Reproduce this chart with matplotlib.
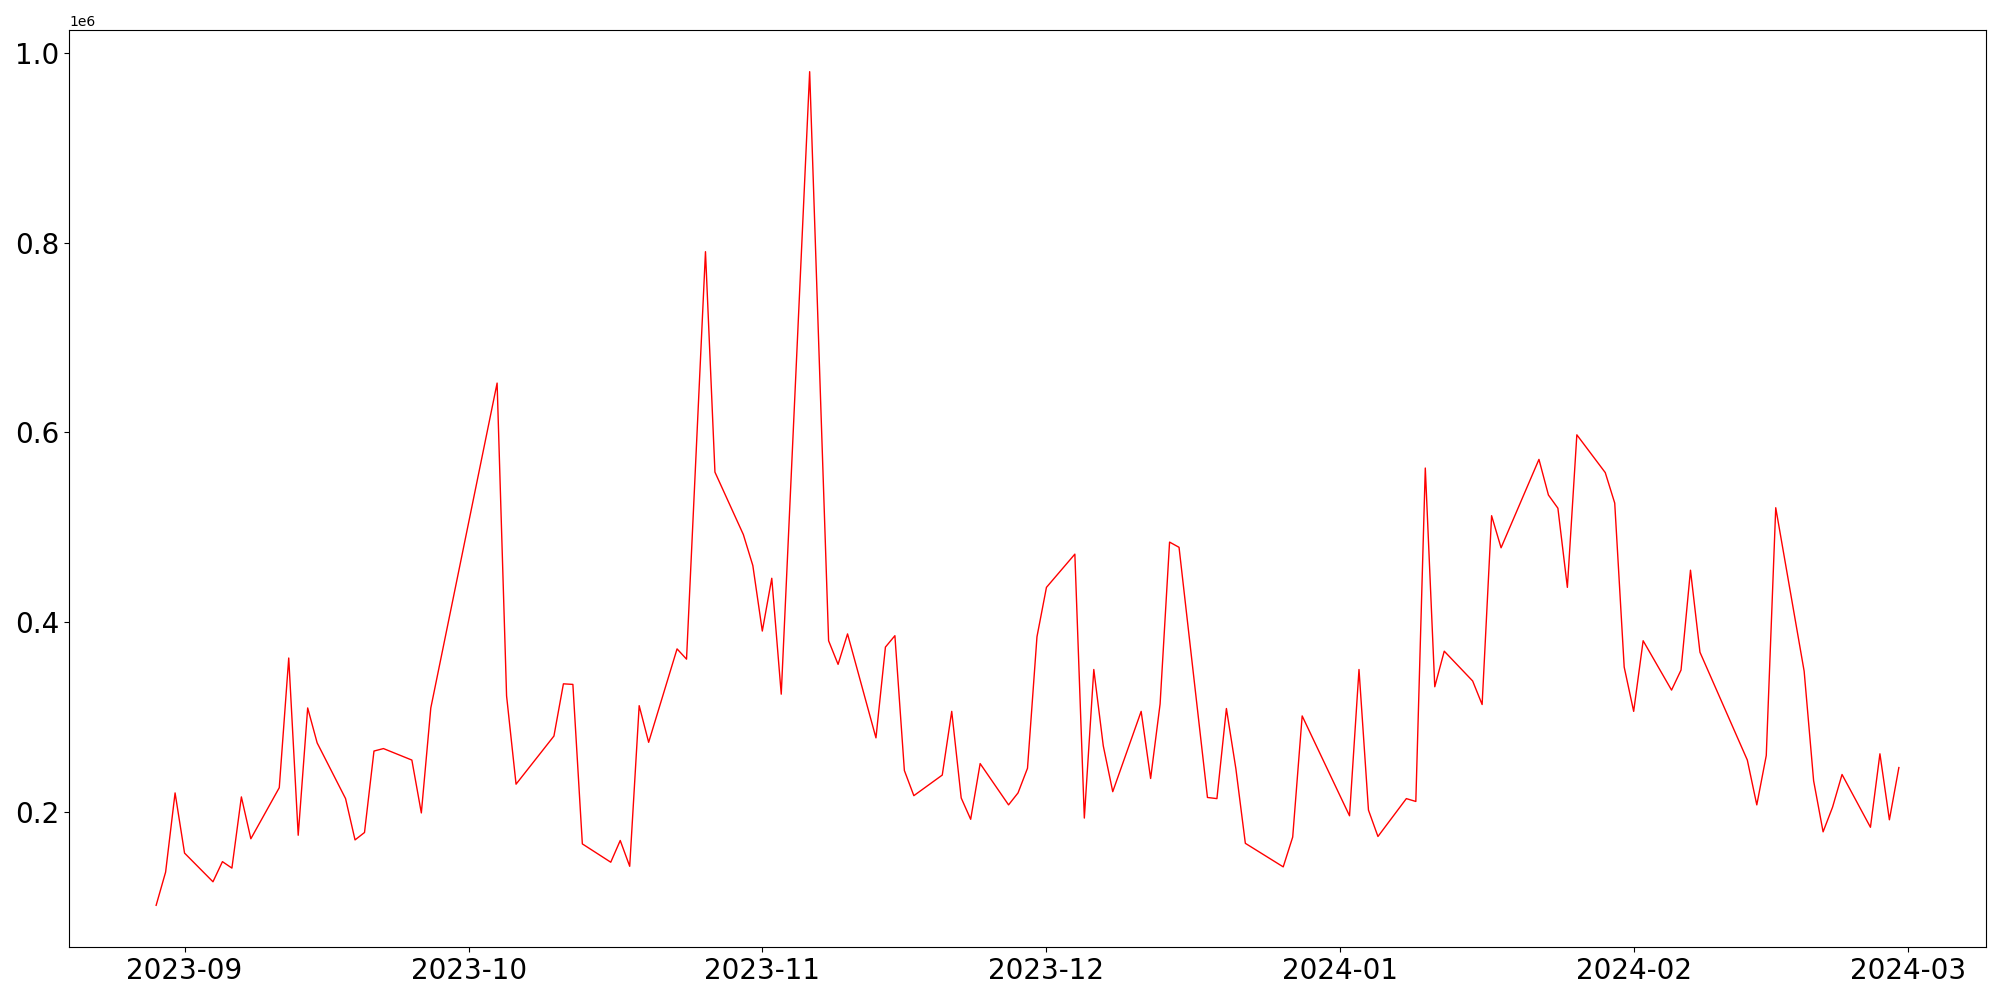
import matplotlib
matplotlib.use("Agg")
import matplotlib.pyplot as plt
import pandas as pd

dates = [
    "2023-08-29", "2023-08-30", "2023-08-31", "2023-09-01", "2023-09-04",
    "2023-09-05", "2023-09-06", "2023-09-07", "2023-09-08", "2023-09-11",
    "2023-09-12", "2023-09-13", "2023-09-14", "2023-09-15", "2023-09-18",
    "2023-09-19", "2023-09-20", "2023-09-21", "2023-09-22", "2023-09-25",
    "2023-09-26", "2023-09-27", "2023-10-04", "2023-10-05", "2023-10-06",
    "2023-10-10", "2023-10-11", "2023-10-12", "2023-10-13", "2023-10-16",
    "2023-10-17", "2023-10-18", "2023-10-19", "2023-10-20", "2023-10-23",
    "2023-10-24", "2023-10-26", "2023-10-27", "2023-10-30", "2023-10-31",
    "2023-11-01", "2023-11-02", "2023-11-03", "2023-11-06", "2023-11-08",
    "2023-11-09", "2023-11-10", "2023-11-13", "2023-11-14", "2023-11-15",
    "2023-11-16", "2023-11-17", "2023-11-20", "2023-11-21", "2023-11-22",
    "2023-11-23", "2023-11-24", "2023-11-27", "2023-11-28", "2023-11-29",
    "2023-11-30", "2023-12-01", "2023-12-04", "2023-12-05", "2023-12-06",
    "2023-12-07", "2023-12-08", "2023-12-11", "2023-12-12", "2023-12-13",
    "2023-12-14", "2023-12-15", "2023-12-18", "2023-12-19", "2023-12-20",
    "2023-12-21", "2023-12-22", "2023-12-26", "2023-12-27", "2023-12-28",
    "2024-01-02", "2024-01-03", "2024-01-04", "2024-01-05", "2024-01-08",
    "2024-01-09", "2024-01-10", "2024-01-11", "2024-01-12", "2024-01-15",
    "2024-01-16", "2024-01-17", "2024-01-18", "2024-01-22", "2024-01-23",
    "2024-01-24", "2024-01-25", "2024-01-26", "2024-01-29", "2024-01-30",
    "2024-01-31", "2024-02-01", "2024-02-02", "2024-02-05", "2024-02-06",
    "2024-02-07", "2024-02-08", "2024-02-13", "2024-02-14", "2024-02-15",
    "2024-02-16", "2024-02-19", "2024-02-20", "2024-02-21", "2024-02-22",
    "2024-02-23", "2024-02-26", "2024-02-27", "2024-02-28", "2024-02-29",
]

volume = [
    101900, 136900, 220300, 156900, 126700,
    147900, 141100, 216100, 172000, 225800,
    362400, 175700, 309800, 273000, 214300,
    170800, 178600, 264400, 267000, 254900,
    199200, 309800, 652000, 322500, 229500,
    280200, 335200, 334600, 166600, 147300,
    170200, 143000, 312200, 273600, 372000,
    361200, 790400, 558200, 492400, 459800,
    390800, 446400, 324300, 980000, 380600,
    355700, 387800, 278300, 373900, 385900,
    243900, 217400, 239100, 306200, 215000,
    192500, 251200, 207700, 220300, 246300,
    384800, 436800, 471800, 193800, 350300,
    269900, 221600, 306200, 235500, 314000,
    484500, 479000, 215500, 214300, 309200,
    245800, 167200, 142400, 173800, 301400,
    196200, 350300, 202200, 174400, 214300,
    211300, 562500, 332100, 369600, 338200,
    313400, 512300, 478500, 571600, 534100,
    520200, 436800, 597500, 557700, 525600,
    352800, 306200, 380600, 328600, 349700,
    454900, 368500, 254900, 207700, 259700,
    520700, 348500, 233100, 179300, 205300,
    239700, 184100, 261500, 192000, 247000,
]


def main():
    x = pd.to_datetime(dates)

    fig = plt.figure(figsize=(20, 10), dpi=100)
    ax = fig.add_subplot(111)
    fig.subplots_adjust(left=0.0345, right=0.993, top=0.97, bottom=0.053)

    ax.plot(x, volume, color="red", linewidth=1)
    ax.tick_params(axis="both", labelsize=20)

    fig.savefig("out.png")


if __name__ == "__main__":
    main()
